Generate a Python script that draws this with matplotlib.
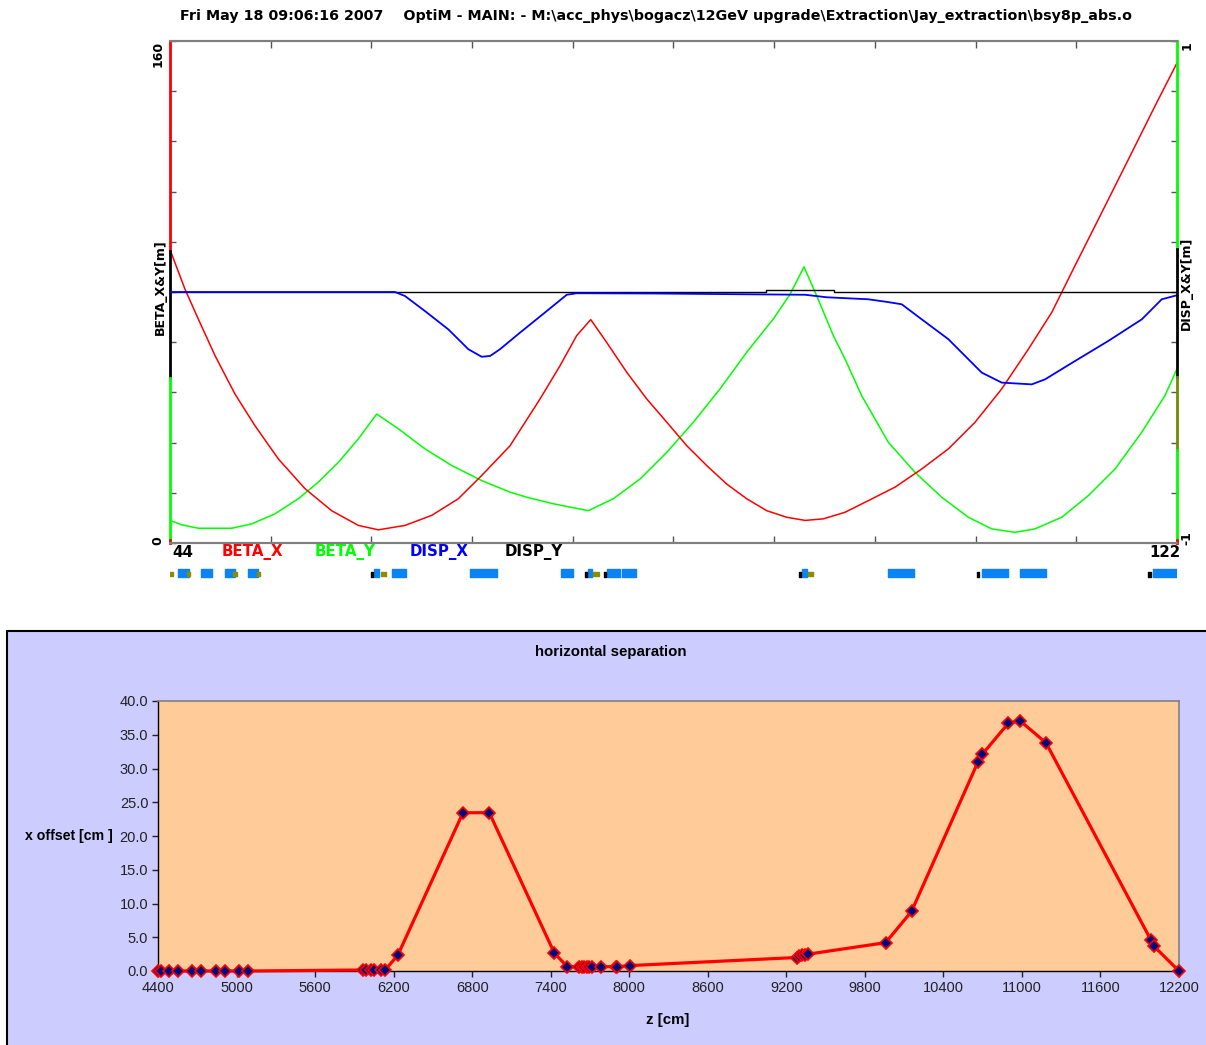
import numpy as np
import matplotlib.pyplot as plt
from matplotlib.patches import Rectangle

plt.rcParams['font.family'] = ['Liberation Sans', 'DejaVu Sans']

TITLE = (r"Fri May 18 09:06:16 2007    OptiM - MAIN: - "
         r"M:\acc_phys\bogacz\12GeV upgrade\Extraction\Jay_extraction\bsy8p_abs.o")

# beta functions [m] along s [m]
s_betx = [44.0, 45.16, 46.19, 47.49, 49.03, 50.58, 52.39, 54.46, 56.52, 58.59,
          60.14, 62.2, 64.27, 66.33, 68.14, 70.34, 72.66, 74.21, 75.5, 76.59,
          77.83, 79.38, 80.93, 82.48, 84.03, 85.57, 87.12, 88.67, 90.22, 91.77,
          93.19, 94.61, 96.29, 98.09, 100.16, 102.23, 104.29, 106.36, 108.42,
          110.49, 112.3, 114.1, 116.17, 118.24, 120.3, 122.0]
beta_x = [93.5, 80.9, 71.4, 59.7, 47.5, 37.4, 26.8, 17.3, 10.3, 5.6,
          4.2, 5.6, 8.8, 14.1, 21.5, 31.0, 45.9, 56.5, 66.1, 71.2,
          63.9, 54.4, 45.9, 38.5, 31.0, 24.7, 18.8, 14.1, 10.3, 8.2,
          7.2, 7.7, 9.8, 13.5, 17.8, 23.6, 30.0, 38.5, 49.1,
          61.8, 73.5, 88.4, 105.3, 122.3, 139.3, 153.0]

s_bety = [44.0, 44.9, 46.19, 48.78, 50.33, 52.13, 53.94, 55.49, 57.04, 58.59,
          60.01, 61.69, 63.75, 65.82, 68.14, 70.34, 71.63, 73.69, 76.4, 78.34,
          80.41, 82.48, 84.54, 86.6, 88.67, 90.73, 92.03, 93.11, 94.09, 95.38,
          96.29, 97.57, 99.64, 101.71, 103.77, 105.84, 107.65, 109.45, 111.0,
          113.07, 115.13, 117.2, 119.27, 121.07, 122.0]
beta_y = [7.2, 5.8, 4.7, 4.7, 6.1, 9.3, 14.1, 19.4, 25.7, 33.2,
          41.1, 36.4, 30.0, 24.7, 19.9, 16.2, 14.6, 12.5, 10.3, 14.1,
          20.4, 28.9, 38.5, 49.1, 60.8, 71.4, 79.3, 88.0, 78.8, 66.1,
          58.6, 47.0, 32.1, 22.5, 14.6, 8.2, 4.5, 3.4, 4.5,
          8.2, 15.1, 23.6, 35.3, 47.0, 55.5]

# dispersion [m]
s_dx = [44.0, 61.43, 62.2, 63.75, 65.56, 67.11, 68.14, 68.79, 69.56, 71.11,
        73.18, 74.73, 75.5, 81.44, 93.19, 94.87, 98.09, 99.6, 100.68, 102.23,
        104.29, 106.87, 108.42, 110.75, 111.78, 114.1, 116.68, 119.27, 120.82,
        122.0]
disp_x = [0.0, 0.0, -0.016, -0.076, -0.149, -0.228, -0.258, -0.255, -0.228, -0.162,
          -0.076, -0.011, -0.005, -0.006, -0.011, -0.021, -0.029, -0.04, -0.049, -0.109,
          -0.188, -0.321, -0.361, -0.368, -0.348, -0.275, -0.195, -0.109, -0.029,
          -0.013]
s_dy = [44.0, 90.2, 90.2, 95.4, 95.4, 122.0]
disp_y = [0.0, 0.0, 0.007, 0.007, 0.0, 0.0]

# lattice elements (start, end) [m]
quads = [(44.64, 45.50), (46.40, 47.23), (48.26, 49.03), (50.07, 50.84),
         (59.80, 60.19), (61.22, 62.26), (67.24, 69.31), (74.26, 75.24),
         (76.35, 76.65), (77.83, 78.86), (79.01, 80.10), (92.92, 93.31),
         (99.59, 101.62), (106.86, 108.92), (109.82, 111.86), (120.14, 122.0)]
correctors = [(43.95, 44.23), (45.32, 45.55), (48.88, 49.19), (50.74, 50.97),
              (60.32, 60.71), (76.79, 77.25), (93.38, 93.83)]
monitors = [59.62, 76.22, 77.69, 92.77, 106.62, 119.87]

# horizontal separation
z_cm = [4400, 4425, 4484, 4553, 4660, 4729, 4844, 4912, 5019, 5088,
        5966, 5989, 6027, 6050, 6104, 6134, 6231, 6730, 6931, 7428,
        7527, 7616, 7639, 7657, 7675, 7693, 7716, 7782, 7897, 7909,
        8003, 9279, 9299, 9322, 9343, 9368, 9959, 10157, 10664, 10697,
        10896, 10985, 11184, 11984, 12009, 12200]
x_off = [0.0, 0.0, 0.0, 0.0, 0.0, 0.0, 0.0, 0.0, 0.0, 0.0,
         0.15, 0.15, 0.15, 0.15, 0.15, 0.15, 2.3, 23.45, 23.45, 2.65,
         0.64, 0.64, 0.64, 0.64, 0.64, 0.64, 0.64, 0.64, 0.64, 0.64,
         0.8, 2.0, 2.2, 2.3, 2.3, 2.5, 4.2, 8.84, 30.96, 32.1,
         36.7, 37.08, 33.8, 4.64, 3.66, 0.0]

W, H = 1206, 1045
fig = plt.figure(figsize=(W / 100, H / 100), dpi=100)


def box(l, t, r, b):
    return [l / W, 1 - b / H, (r - l) / W, (b - t) / H]


# OptiM labels use a wide bold face
optim = dict(family='DejaVu Sans', fontweight='bold')

fig.text(656 / W, 1 - 16 / H, TITLE, ha='center', va='center',
         fontsize=10.3, **optim)

# ---- optics plot
ax = fig.add_axes(box(170, 41, 1177, 543))
ax.set_xlim(44, 122)
ax.set_ylim(0, 160)
axd = ax.twinx()
axd.set_ylim(-1, 1)

for a in (ax, axd):
    a.patch.set_visible(False)
    for side in ('left', 'right'):
        a.spines[side].set_visible(False)
    for side in ('top', 'bottom'):
        a.spines[side].set_color('#7f7f7f')
        a.spines[side].set_linewidth(1.5)

ax.set_xticks(np.linspace(44, 122, 11))
ax.tick_params(axis='x', direction='in', top=True, length=5, width=1,
               color='#555555', labelbottom=False)
ax.set_yticks(np.arange(0, 161, 16))
ax.tick_params(axis='y', direction='in', length=4, width=1, color='#555555',
               labelleft=False)
axd.set_yticks(np.linspace(-1, 1, 11))
axd.tick_params(axis='y', direction='in', length=4, width=1, color='#555555',
                labelright=False)

axd.plot(s_dy, disp_y, color='black', lw=1.0)
axd.plot(s_dx, disp_x, color='#0000ff', lw=1.3)
ax.plot(s_bety, beta_y, color='#00ff00', lw=1.1)
ax.plot(s_betx, beta_x, color='#ff0000', lw=1.1)

# coloured vertical axes
ax.plot([44, 44], [160, 93], color='#ff0000', lw=2, clip_on=False)
ax.plot([44, 44], [93, 52.5], color='black', lw=2, clip_on=False)
ax.plot([44, 44], [52.5, 1], color='#00ff00', lw=2, clip_on=False)
ax.plot([44, 44], [1, 0], color='#ff0000', lw=2, clip_on=False)
axd.plot([122, 122], [1, 0.17], color='#00ff00', lw=2, clip_on=False)
axd.plot([122, 122], [0.17, -0.34], color='black', lw=2, clip_on=False)
axd.plot([122, 122], [-0.34, -0.63], color='#6b8e00', lw=2, clip_on=False)
axd.plot([122, 122], [-0.63, -0.99], color='#00ff00', lw=2, clip_on=False)
axd.plot([122, 122], [-0.99, -1], color='#ff0000', lw=2, clip_on=False)

ax.text(-0.012, 1.0, '160', transform=ax.transAxes, rotation=90,
        ha='center', va='top', fontsize=9, **optim)
ax.text(-0.012, -0.004, '0', transform=ax.transAxes, rotation=90,
        ha='center', va='bottom', fontsize=9, **optim)
ax.text(-0.010, 0.51, 'BETA_X&Y[m]', transform=ax.transAxes, rotation=90,
        ha='center', va='center', fontsize=9, **optim)
ax.text(1.0095, 1.0, '1', transform=ax.transAxes, rotation=90,
        ha='center', va='top', fontsize=9, **optim)
ax.text(1.0095, -0.004, '-1', transform=ax.transAxes, rotation=90,
        ha='center', va='bottom', fontsize=9, **optim)
ax.text(1.0095, 0.518, 'DISP_X&Y[m]', transform=ax.transAxes, rotation=90,
        ha='center', va='center', fontsize=9, **optim)

ax.text(0.002, -0.018, '44', transform=ax.transAxes, ha='left', va='center',
        fontsize=10.8, **optim)
ax.text(1.003, -0.018, '122', transform=ax.transAxes, ha='right', va='center',
        fontsize=10.8, **optim)
for xl, name, col in [(0.0516, 'BETA_X', '#ff0000'), (0.144, 'BETA_Y', '#00ff00'),
                      (0.238, 'DISP_X', '#0000ff'), (0.332, 'DISP_Y', 'black')]:
    ax.text(xl, -0.018, name, transform=ax.transAxes, color=col,
            ha='left', va='center', fontsize=10.8, **optim)

# element strip under the optics plot
axe = fig.add_axes(box(170, 565, 1177, 581))
axe.set_xlim(44, 122)
axe.set_ylim(0, 1)
axe.axis('off')
axe.broken_barh([(a, b - a) for a, b in quads], (0.25, 0.5), color='#0a84f5')
axe.broken_barh([(a, b - a) for a, b in correctors], (0.3, 0.27), color='#8c8c00')
axe.broken_barh([(m - 0.08, 0.16) for m in monitors], (0.25, 0.32), color='black')

# ---- horizontal separation chart
fig.add_artist(Rectangle((7 / W, -0.02), 1.0, (H - 631) / H + 0.02,
                         transform=fig.transFigure, facecolor='#ccccff',
                         edgecolor='black', lw=1.5, zorder=0))

axb = fig.add_axes(box(158, 701, 1179, 971))
axb.set_facecolor('#ffcc99')
axb.set_xlim(4400, 12200)
axb.set_ylim(0, 40)
axb.set_xticks(np.arange(4400, 12201, 600))
axb.set_yticks(np.arange(0, 41, 5))
axb.set_yticklabels(['%.1f' % v for v in np.arange(0, 41, 5)])
axb.tick_params(direction='out', length=4, width=1, labelsize=10.5,
                colors='#222222', pad=3)
for side in ('top', 'right'):
    axb.spines[side].set_color('#808080')
    axb.spines[side].set_linewidth(1.2)
for side in ('left', 'bottom'):
    axb.spines[side].set_color('black')
    axb.spines[side].set_linewidth(1.0)

axb.plot(z_cm, x_off, color='#ff0000', lw=2.3, marker='D', ms=6.5,
         mfc='#000080', mec='#ff0000', mew=1.2, clip_on=False, zorder=3)

fig.text(611 / W, 1 - 652 / H, 'horizontal separation', ha='center', va='center',
         fontsize=10.8, fontweight='bold')
fig.text(668 / W, 1 - 1020 / H, 'z [cm]', ha='center', va='center',
         fontsize=10.8, fontweight='bold')
fig.text(69 / W, 1 - 836 / H, 'x offset [cm ]', ha='center', va='center',
         fontsize=10.2, fontweight='bold')

fig.savefig('out.png', dpi=100)
